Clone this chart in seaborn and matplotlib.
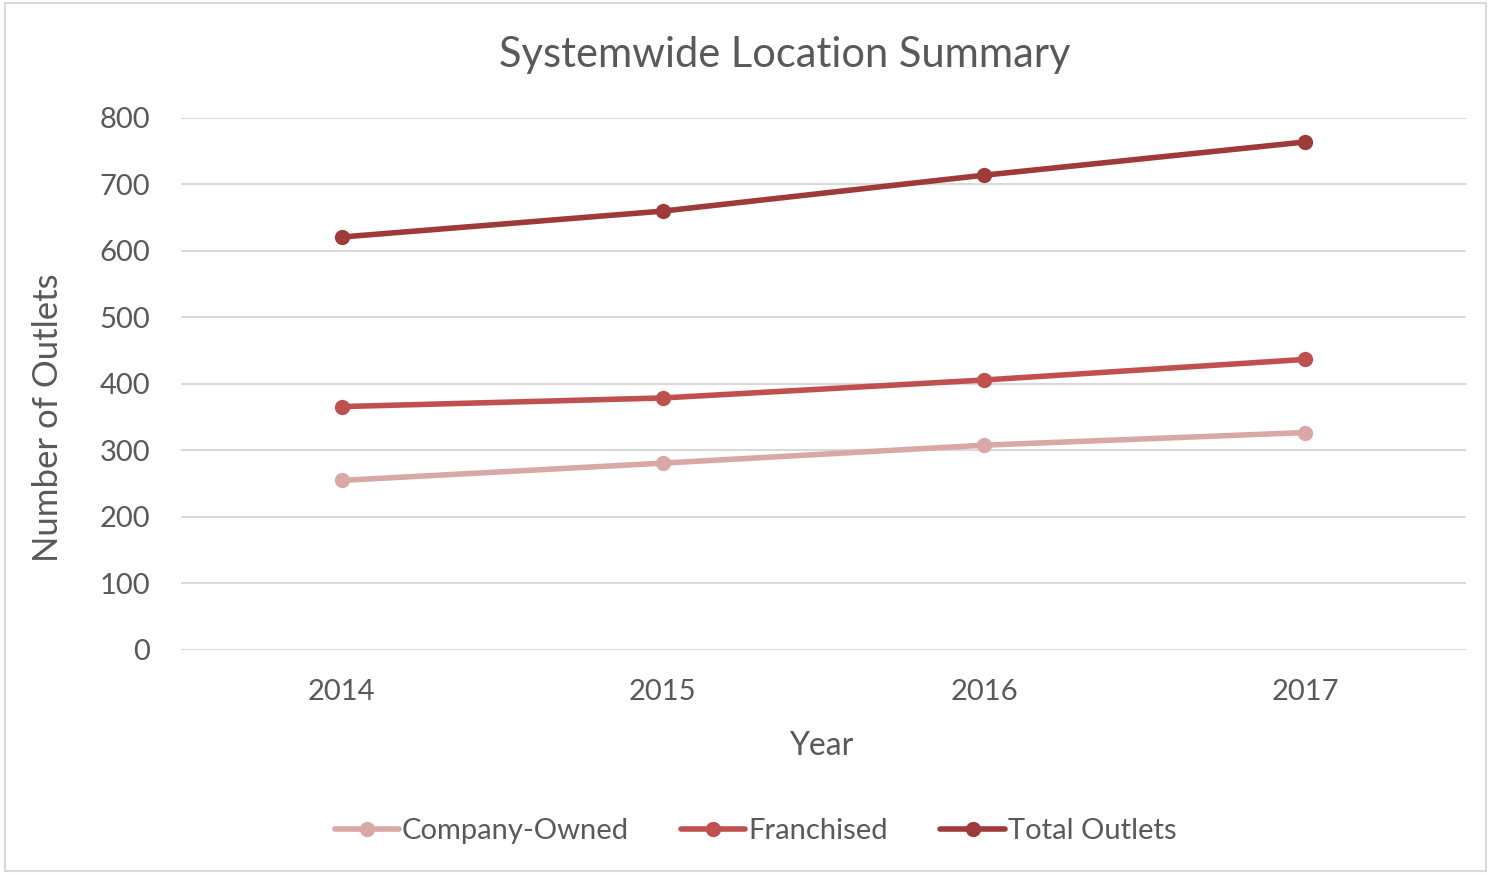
import pandas as pd
import numpy as np
import seaborn as sns
import matplotlib.pyplot as plt
from matplotlib.patches import Rectangle

years = ["2014", "2015", "2016", "2017"]
company_owned = [255, 281, 308, 327]
franchised = [366, 379, 406, 437]
total_outlets = [621, 660, 714, 764]

series_names = ["Company-Owned", "Franchised", "Total Outlets"]
colors = ["#D9A8A6", "#C0504D", "#9E3A37"]

df = pd.DataFrame({
    "pos": list(range(len(years))) * 3,
    "Outlets": company_owned + franchised + total_outlets,
    "Series": [s for s in series_names for _ in years],
})

sns.set_style("white")
plt.rcParams["font.family"] = ["Lato", "DejaVu Sans"]
txt = "#595959"

fig = plt.figure(figsize=(14.91, 8.74), dpi=100)
ax = fig.add_axes([0.1214, 0.2563, 0.8619, 0.6087])

sns.lineplot(data=df, x="pos", y="Outlets", hue="Series", palette=colors,
             marker="o", markersize=11, markeredgewidth=0, linewidth=4,
             ax=ax, legend=True)

ax.set_xlim(-0.5, 3.5)
ax.set_ylim(0, 800)
ax.set_yticks(np.arange(0, 801, 100))
ax.set_xticks(range(len(years)))
ax.set_xticklabels(years)
ax.grid(axis="y", color="#D9D9D9", linewidth=1.5)
ax.set_axisbelow(True)
for s in ax.spines.values():
    s.set_visible(False)
ax.tick_params(axis="both", length=0, labelsize=21, labelcolor=txt)
ax.tick_params(axis="y", pad=22)
ax.tick_params(axis="x", pad=21)
ax.set_xlabel("")
ax.set_ylabel("")

fig.text(0.5265, 0.937, "Systemwide Location Summary", ha="center", va="center",
         fontsize=30, color=txt)
fig.text(0.551, 0.147, "Year", ha="center", va="center", fontsize=23, color=txt)
fig.text(0.032, 0.522, "Number of Outlets", ha="center", va="center",
         rotation=90, fontsize=25, color=txt)

handles, labels = ax.get_legend_handles_labels()
ax.legend_.remove()
fig.legend(handles, labels, loc="center", bbox_to_anchor=(0.5066, 0.049), ncol=3,
           frameon=False, fontsize=21, labelcolor=txt, handlelength=2.2,
           handletextpad=0.1, columnspacing=1.8)

fig.patches.append(Rectangle((0.0035, 0.004), 0.993, 0.993, transform=fig.transFigure,
                             fill=False, edgecolor="#D9D9D9", linewidth=1.5))

fig.savefig("out.png", dpi=100)
